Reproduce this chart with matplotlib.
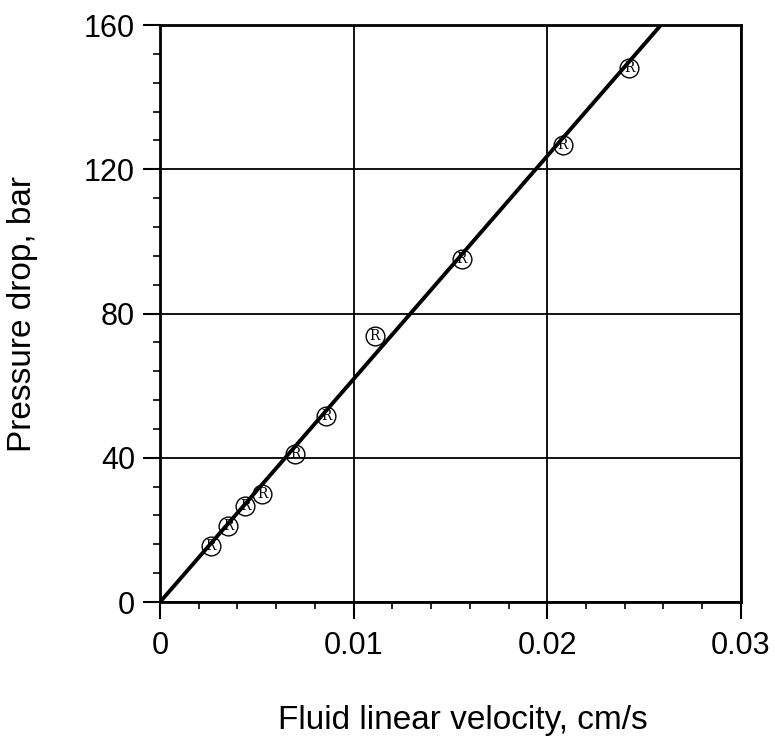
import matplotlib.pyplot as plt
import numpy as np

# data
velocity = [0.00263, 0.00351, 0.00439, 0.00527, 0.00697, 0.00857, 0.0111, 0.01559, 0.02081, 0.02422]
pressure = [15.5, 21.1, 26.6, 30.0, 41.0, 51.6, 73.8, 95.1, 126.7, 148.1]
fit_x = [0.0, 0.02587]
fit_y = [0.0, 160.0]
x_ticks = [0, 0.01, 0.02, 0.03]
x_labels = ['0', '0.01', '0.02', '0.03']
y_ticks = [0, 40, 80, 120, 160]

plt.rcParams['font.family'] = ['Liberation Sans', 'DejaVu Sans']

fig = plt.figure(figsize=(7.75, 7.36), dpi=100)
ax = fig.add_axes([0.2065, 0.182, 0.7495, 0.784])

ax.plot(fit_x, fit_y, color='black', lw=2.8, zorder=3)
ax.plot(velocity, pressure, 'o', ms=13.5, mfc='none', mec='black', mew=1.0, zorder=4)
for vx, py in zip(velocity, pressure):
    ax.text(vx, py, 'R', family='DejaVu Serif', fontsize=10, ha='center', va='center', zorder=5)

ax.set_xlim(0, 0.03)
ax.set_ylim(0, 160)
ax.set_xticks(x_ticks)
ax.set_xticklabels(x_labels)
ax.set_yticks(y_ticks)
ax.set_xticks(np.arange(0, 0.0301, 0.002), minor=True)
ax.set_yticks(np.arange(0, 161, 8), minor=True)

ax.grid(True, which='major', color='black', lw=1.3)
for s in ax.spines.values():
    s.set_linewidth(2.0)
ax.tick_params(which='major', direction='out', length=12, width=1.5, labelsize=22)
ax.tick_params(axis='x', which='major', pad=9)
ax.tick_params(axis='y', which='major', pad=6)
ax.tick_params(which='minor', direction='out', length=5, width=1.2)

ax.set_xlabel('Fluid linear velocity, cm/s', fontsize=24)
ax.set_ylabel('Pressure drop, bar', fontsize=24)
ax.xaxis.set_label_coords(0.522, -0.178)
ax.yaxis.set_label_coords(-0.21, 0.5)

plt.savefig('out.png', dpi=100)
